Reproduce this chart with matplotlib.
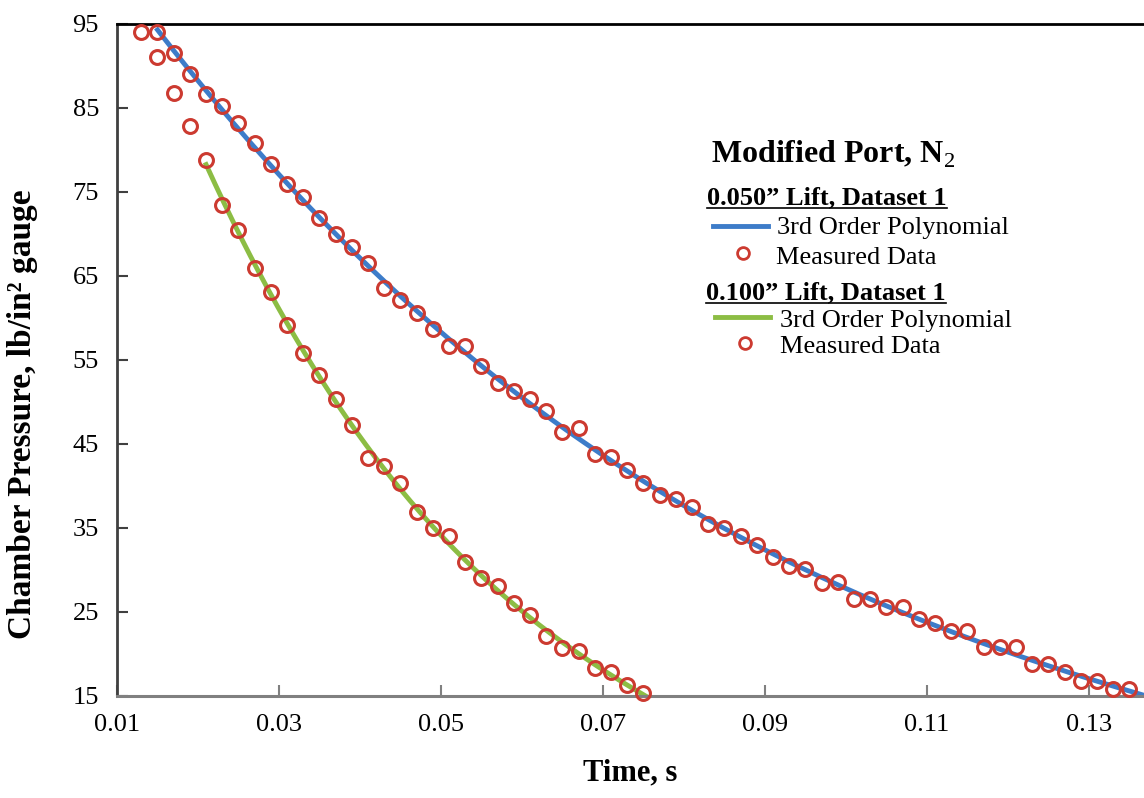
import numpy as np
import matplotlib
matplotlib.use("Agg")
import matplotlib.pyplot as plt
from matplotlib.lines import Line2D

plt.rcParams['font.family'] = ['Liberation Serif', 'DejaVu Serif']
plt.rcParams['mathtext.fontset'] = 'custom'
plt.rcParams['mathtext.rm'] = 'Liberation Serif'
plt.rcParams['mathtext.bf'] = 'Liberation Serif:bold'

# 0.050" lift, dataset 1 (measured)
t_050 = [0.015, 0.017, 0.019, 0.021, 0.023, 0.025, 0.027, 0.029, 0.031, 0.033,
         0.035, 0.037, 0.039, 0.041, 0.043, 0.045, 0.047, 0.049, 0.051, 0.053,
         0.055, 0.057, 0.059, 0.061, 0.063, 0.065, 0.067, 0.069, 0.071, 0.073,
         0.075, 0.077, 0.079, 0.081, 0.083, 0.085, 0.087, 0.089, 0.091, 0.093,
         0.095, 0.097, 0.099, 0.101, 0.103, 0.105, 0.107, 0.109, 0.111, 0.113,
         0.115, 0.117, 0.119, 0.121, 0.123, 0.125, 0.127, 0.129, 0.131, 0.133,
         0.135]
p_050 = [94.0, 91.6, 89.1, 86.7, 85.2, 83.2, 80.8, 78.3, 75.9, 74.4,
         71.9, 70.0, 68.5, 66.5, 63.6, 62.1, 60.6, 58.7, 56.7, 56.7,
         54.3, 52.3, 51.3, 50.3, 48.9, 46.4, 46.9, 43.8, 43.4, 41.9,
         40.4, 38.9, 38.4, 37.5, 35.5, 35.0, 34.0, 33.0, 31.5, 30.5,
         30.1, 28.5, 28.6, 26.6, 26.6, 25.6, 25.6, 24.2, 23.7, 22.7,
         22.7, 20.8, 20.8, 20.8, 18.8, 18.8, 17.8, 16.8, 16.8, 15.8,
         15.8]

# 0.100" lift, dataset 1 (measured)
t_100 = [0.013, 0.015, 0.017, 0.019, 0.021, 0.023, 0.025, 0.027, 0.029, 0.031,
         0.033, 0.035, 0.037, 0.039, 0.041, 0.043, 0.045, 0.047, 0.049, 0.051,
         0.053, 0.055, 0.057, 0.059, 0.061, 0.063, 0.065, 0.067, 0.069, 0.071,
         0.073, 0.075]
p_100 = [94.0, 91.1, 86.8, 82.8, 78.8, 73.5, 70.5, 66.0, 63.1, 59.2,
         55.8, 53.2, 50.3, 47.3, 43.3, 42.4, 40.4, 36.9, 35.0, 34.0,
         31.0, 29.1, 28.1, 26.1, 24.6, 22.1, 20.7, 20.3, 18.3, 17.8,
         16.3, 15.4]

x_ticks = [0.01, 0.03, 0.05, 0.07, 0.09, 0.11, 0.13]
y_ticks = [15, 25, 35, 45, 55, 65, 75, 85, 95]

blue = '#3d7cc9'
green = '#8cbd44'
red = '#cc3a30'

W, H = 1144, 798
fig = plt.figure(figsize=(W / 100, H / 100), dpi=100)
ax = fig.add_axes([117 / W, 1 - 696 / H, 1 - 117 / W, (696 - 24) / H])

# 3rd order polynomial fits of the measured data
t_050 = np.array(t_050); p_050 = np.array(p_050)
t_100 = np.array(t_100); p_100 = np.array(p_100)
c1 = np.polyfit(t_050, p_050, 3)
xs1 = np.linspace(0.015, 0.14, 200)
ax.plot(xs1, np.polyval(c1, xs1), color=blue, lw=3.5, zorder=2)
m = t_100 >= 0.021
c2 = np.polyfit(t_100[m], p_100[m], 3)
xs2 = np.linspace(0.021, 0.0755, 200)
ax.plot(xs2, np.polyval(c2, xs2), color=green, lw=3.5, zorder=2)

ax.plot(t_050, p_050, 'o', ms=10, mfc='none', mec=red, mew=2.2, zorder=3, clip_on=False)
ax.plot(t_100, p_100, 'o', ms=10, mfc='none', mec=red, mew=2.2, zorder=3, clip_on=False)

ax.set_xlim(0.01, 0.1368)
ax.set_ylim(15, 95)
ax.set_xticks(x_ticks)
ax.set_xticklabels([f"{v:.2f}" for v in x_ticks])
ax.set_yticks(y_ticks)
ax.tick_params(direction='in', length=8, width=1.5, labelsize=19, pad=13)
ax.tick_params(axis='x', colors='#808080', labelcolor='black')
ax.tick_params(axis='y', colors='#404040', labelcolor='black')

ax.spines['right'].set_visible(False)
ax.spines['top'].set_color('black')
ax.spines['top'].set_linewidth(2)
ax.spines['left'].set_color('#404040')
ax.spines['left'].set_linewidth(2)
ax.spines['bottom'].set_color('#808080')
ax.spines['bottom'].set_linewidth(2.2)

ax.set_xlabel('Time, s', fontsize=22, fontweight='bold', va='center')
ax.xaxis.set_label_coords(0.5, (696 - 773) / 672)
ax.set_ylabel('Chamber Pressure, lb/in² gauge', fontsize=24, fontweight='bold',
              va='center', ha='center')
ax.yaxis.set_label_coords((22 - 117) / (W - 117), (696 - 414) / 672)

# legend, drawn by hand
def fx(px):
    return px / W

def fy(py):
    return 1 - py / H

fig.text(fx(711), fy(163), r'Modified Port, N$_2$', fontsize=23, fontweight='bold',
         va='baseline')
headers = [(707, 204, '0.050\u201d Lift, Dataset 1'), (706, 299, '0.100\u201d Lift, Dataset 1')]
fig.canvas.draw()
rend = fig.canvas.get_renderer()
for x0, yb, s in headers:
    t = fig.text(fx(x0), fy(yb), s, fontsize=19, fontweight='bold', va='baseline')
    bb = t.get_window_extent(rend)
    fig.add_artist(Line2D([fx(bb.x0), fx(bb.x1)], [fy(yb + 4), fy(yb + 4)],
                          transform=fig.transFigure, color='black', lw=1.2))

fig.add_artist(Line2D([fx(713), fx(768)], [fy(226), fy(226)], transform=fig.transFigure,
                      color=blue, lw=3.5))
fig.text(fx(777), fy(234), '3rd Order Polynomial', fontsize=19, va='baseline')
fig.add_artist(Line2D([fx(743)], [fy(253)], transform=fig.transFigure, marker='o', ms=8.5,
                      mfc='none', mec=red, mew=2))
fig.text(fx(776), fy(264), 'Measured Data', fontsize=19, va='baseline')

fig.add_artist(Line2D([fx(715), fx(770)], [fy(317), fy(317)], transform=fig.transFigure,
                      color=green, lw=3.5))
fig.text(fx(780), fy(327), '3rd Order Polynomial', fontsize=19, va='baseline')
fig.add_artist(Line2D([fx(745)], [fy(343)], transform=fig.transFigure, marker='o', ms=8.5,
                      mfc='none', mec=red, mew=2))
fig.text(fx(780), fy(353), 'Measured Data', fontsize=19, va='baseline')

fig.savefig('out.png', dpi=100)
